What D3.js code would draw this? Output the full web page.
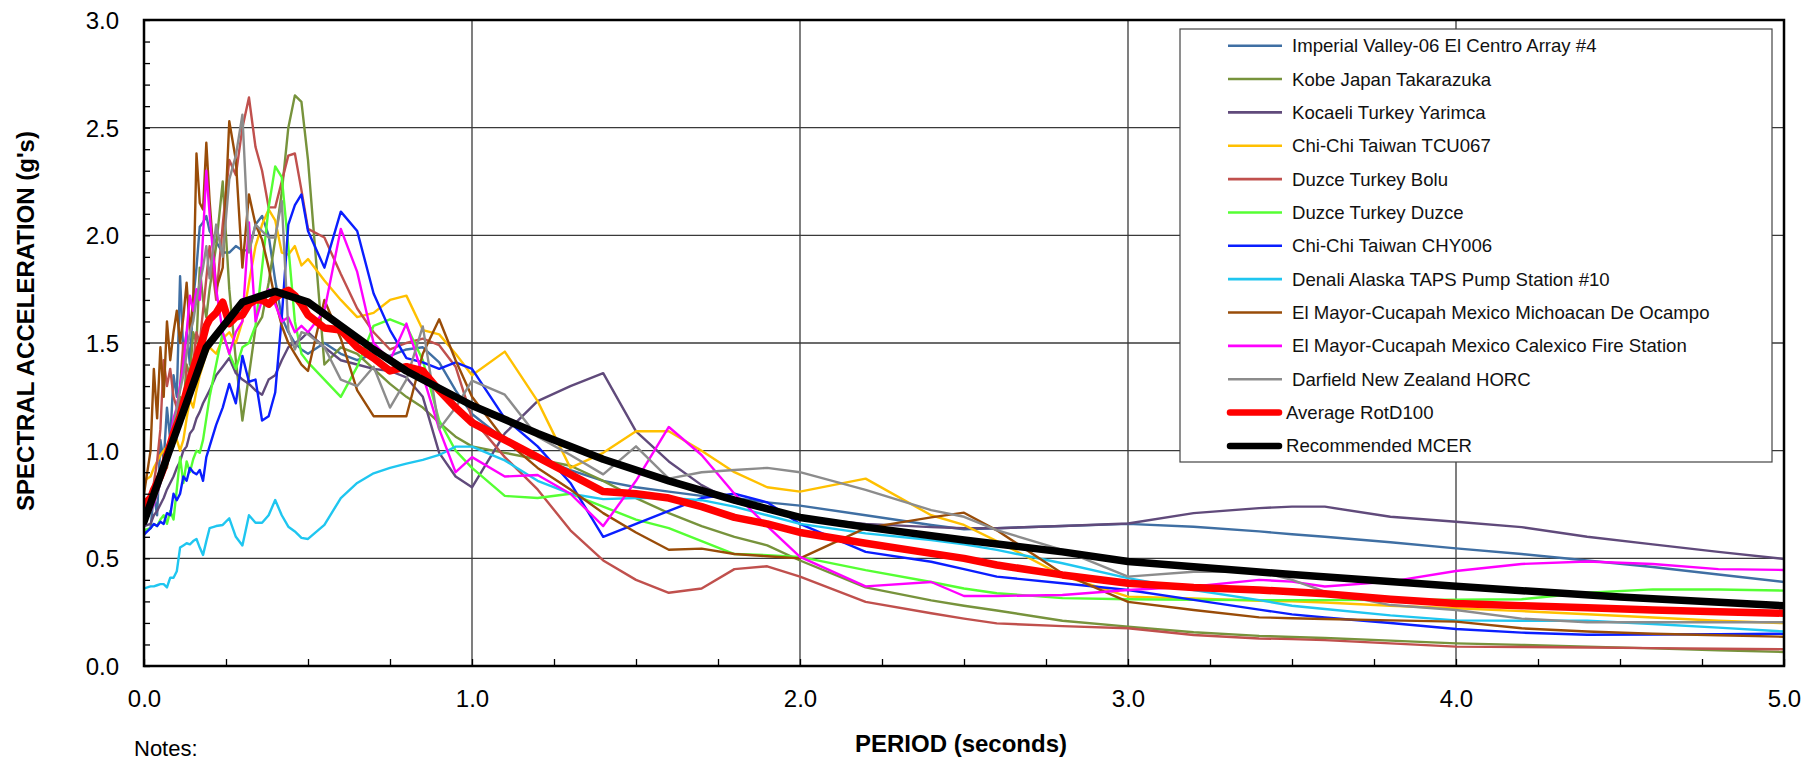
<!DOCTYPE html>
<html><head><meta charset="utf-8">
<script src="https://cdn.jsdelivr.net/npm/d3@7"></script>
<style>
html,body{margin:0;padding:0;background:#fff;}
svg{display:block;font-family:Arial,"Liberation Sans",sans-serif;}
</style></head><body>
<svg id="chart" width="1818" height="763"></svg>
<script>
// ---------------- DATA ----------------
const periods = [
  0.0,0.02,0.03,0.04,0.05,0.06,0.07,0.08,0.09,0.10,
  0.11,0.12,0.13,0.14,0.15,0.16,0.17,0.18,0.19,0.20,
  0.22,0.24,0.26,0.28,0.30,0.32,0.34,0.36,0.38,0.40,
  0.42,0.44,0.46,0.48,0.50,0.55,0.60,0.65,0.70,0.75,
  0.80,0.85,0.90,0.95,1.0,1.1,1.2,1.3,1.4,1.5,
  1.6,1.7,1.8,1.9,2.0,2.2,2.4,2.5,2.6,2.8,
  3.0,3.2,3.4,3.5,3.6,3.8,4.0,4.2,4.4,4.6,
  4.8,5.0];

const imperialValley = [
  0.62,0.64,0.80,0.70,1.05,0.95,1.20,1.05,1.35,1.25,
  1.81,1.45,1.55,1.40,1.70,1.85,2.04,2.06,2.09,2.02,
  1.97,1.92,1.92,1.95,1.93,1.93,2.05,2.09,2.00,1.79,
  1.62,1.55,1.50,1.47,1.45,1.50,1.45,1.42,1.45,1.44,
  1.47,1.48,1.41,1.28,1.17,1.05,0.97,0.91,0.86,0.83,
  0.81,0.79,0.78,0.76,0.745,0.70,0.655,0.635,0.64,0.65,
  0.66,0.647,0.625,0.612,0.60,0.575,0.546,0.52,0.49,0.46,
  0.425,0.39];

const kobe = [
  0.72,0.74,0.78,0.82,0.88,0.95,0.92,1.05,1.02,1.15,
  1.25,1.20,1.40,1.35,1.55,1.50,1.85,1.70,1.62,1.75,
  1.95,2.25,1.75,1.42,1.14,1.35,1.57,1.62,1.78,1.98,
  2.20,2.50,2.65,2.62,2.35,1.40,1.48,1.45,1.38,1.31,
  1.25,1.20,1.13,1.065,1.02,0.99,0.96,0.93,0.86,0.78,
  0.71,0.65,0.60,0.56,0.49,0.365,0.305,0.28,0.258,0.21,
  0.183,0.157,0.14,0.135,0.13,0.118,0.105,0.098,0.09,0.082,
  0.073,0.065];

const kocaeli = [
  0.65,0.66,0.70,0.72,0.75,0.78,0.82,0.85,0.88,0.92,
  0.95,1.00,1.02,1.08,1.10,1.15,1.18,1.22,1.25,1.28,
  1.35,1.39,1.43,1.36,1.33,1.31,1.28,1.26,1.33,1.35,
  1.42,1.48,1.50,1.52,1.55,1.48,1.42,1.40,1.38,1.37,
  1.34,1.25,0.99,0.88,0.83,1.08,1.23,1.30,1.36,1.09,
  0.95,0.84,0.76,0.72,0.69,0.66,0.645,0.64,0.64,0.65,
  0.662,0.71,0.733,0.74,0.74,0.693,0.67,0.645,0.60,0.565,
  0.53,0.497];

const chiChiTCU067 = [
  0.86,0.88,0.92,0.95,0.98,1.00,1.02,1.05,1.08,1.05,
  1.00,1.05,1.15,1.24,1.20,1.28,1.35,1.40,1.45,1.48,
  1.45,1.52,1.55,1.50,1.60,1.78,1.95,2.05,2.12,2.07,
  1.92,1.91,1.95,1.86,1.89,1.79,1.70,1.62,1.64,1.70,
  1.72,1.56,1.54,1.45,1.35,1.46,1.23,0.92,0.99,1.09,
  1.09,1.00,0.90,0.83,0.81,0.87,0.70,0.655,0.58,0.42,
  0.322,0.314,0.303,0.30,0.295,0.28,0.268,0.255,0.24,0.225,
  0.21,0.199];

const duzceBolu = [
  0.70,0.75,0.85,0.95,1.10,1.42,1.30,1.38,1.25,1.20,
  1.30,1.50,1.35,1.30,1.40,1.55,1.50,1.65,1.80,1.95,
  1.70,2.05,2.35,2.28,2.50,2.64,2.41,2.30,2.13,2.13,
  2.25,2.37,2.38,2.21,2.03,1.99,1.82,1.66,1.55,1.47,
  1.50,1.52,1.49,1.39,1.15,0.97,0.82,0.63,0.49,0.40,
  0.34,0.36,0.45,0.463,0.415,0.298,0.245,0.22,0.198,0.185,
  0.175,0.144,0.128,0.125,0.12,0.105,0.09,0.088,0.086,0.083,
  0.08,0.078];

const duzceDuzce = [
  0.63,0.64,0.66,0.65,0.68,0.70,0.66,0.72,0.68,0.82,
  0.97,0.85,0.95,0.90,0.96,1.00,0.99,1.05,1.15,1.25,
  1.40,1.55,1.45,1.38,1.48,1.50,1.58,1.85,2.13,2.32,
  2.27,1.95,1.60,1.45,1.41,1.33,1.25,1.39,1.58,1.61,
  1.58,1.42,1.14,1.00,0.92,0.79,0.78,0.80,0.74,0.68,
  0.64,0.58,0.52,0.515,0.507,0.445,0.39,0.36,0.338,0.315,
  0.31,0.308,0.306,0.306,0.306,0.307,0.308,0.31,0.34,0.356,
  0.355,0.35];

const chiChiCHY006 = [
  0.61,0.64,0.66,0.65,0.67,0.66,0.71,0.70,0.80,0.77,
  0.80,0.88,0.86,0.92,0.90,0.89,0.91,0.86,0.97,1.02,
  1.12,1.20,1.31,1.22,1.44,1.32,1.33,1.14,1.16,1.27,
  1.62,2.05,2.14,2.19,2.02,1.85,2.11,2.02,1.73,1.56,
  1.43,1.41,1.38,1.41,1.38,1.15,1.02,0.85,0.60,0.66,
  0.72,0.78,0.80,0.76,0.66,0.53,0.484,0.45,0.415,0.384,
  0.353,0.307,0.262,0.24,0.225,0.20,0.172,0.155,0.145,0.146,
  0.148,0.15];

const denali = [
  0.36,0.37,0.37,0.375,0.38,0.38,0.365,0.41,0.41,0.44,
  0.55,0.56,0.57,0.565,0.58,0.59,0.55,0.516,0.58,0.64,
  0.65,0.655,0.686,0.60,0.56,0.70,0.665,0.665,0.70,0.771,
  0.70,0.647,0.625,0.595,0.59,0.655,0.78,0.85,0.895,0.92,
  0.94,0.957,0.98,1.019,1.019,0.955,0.86,0.80,0.775,0.78,
  0.78,0.77,0.74,0.70,0.66,0.616,0.585,0.565,0.539,0.477,
  0.408,0.353,0.306,0.28,0.265,0.235,0.212,0.21,0.21,0.195,
  0.178,0.16];

const michoacan = [
  0.80,1.00,1.38,1.15,1.48,1.25,1.60,1.42,1.55,1.65,
  1.50,1.62,1.78,1.55,1.70,2.38,2.15,2.12,2.43,2.16,
  1.75,1.85,2.53,2.35,1.85,2.19,2.05,1.98,1.85,1.70,
  1.58,1.50,1.45,1.40,1.37,1.70,1.52,1.28,1.16,1.16,
  1.16,1.45,1.61,1.42,1.25,1.05,0.92,0.82,0.71,0.62,
  0.54,0.545,0.52,0.51,0.50,0.64,0.69,0.712,0.63,0.43,
  0.298,0.26,0.226,0.222,0.218,0.212,0.206,0.175,0.16,0.15,
  0.143,0.136];

const calexico = [
  0.70,0.72,0.75,0.80,0.85,0.95,1.00,1.05,1.15,1.20,
  1.30,1.40,1.55,1.72,1.65,1.75,1.70,2.00,2.30,2.10,
  1.75,1.55,1.45,1.55,1.60,2.06,1.60,1.70,1.75,1.68,
  1.60,1.62,1.55,1.58,1.55,1.65,2.03,1.83,1.50,1.42,
  1.59,1.35,1.10,0.90,0.97,0.88,0.887,0.80,0.65,0.86,
  1.11,0.98,0.80,0.65,0.507,0.37,0.39,0.325,0.325,0.33,
  0.353,0.369,0.40,0.392,0.369,0.392,0.441,0.474,0.485,0.474,
  0.45,0.446];

const darfield = [
  0.70,0.72,0.76,0.80,0.85,0.90,0.98,1.05,1.12,1.20,
  1.28,1.35,1.45,1.55,1.60,1.70,1.78,1.85,1.95,1.80,
  2.05,1.90,2.26,2.37,2.56,1.92,2.05,2.02,1.99,1.99,
  2.16,1.56,1.47,1.55,1.54,1.48,1.33,1.30,1.39,1.20,
  1.33,1.577,1.10,1.20,1.325,1.26,1.065,0.98,0.89,1.02,
  0.87,0.90,0.91,0.92,0.90,0.818,0.724,0.693,0.631,0.539,
  0.415,0.438,0.438,0.40,0.345,0.283,0.26,0.22,0.203,0.203,
  0.203,0.203];

const averageRotD100 = [
  0.75,0.78,0.82,0.85,0.88,0.92,0.98,1.03,1.08,1.12,
  1.16,1.22,1.28,1.33,1.38,1.43,1.48,1.52,1.58,1.61,
  1.64,1.69,1.59,1.62,1.63,1.68,1.70,1.70,1.68,1.71,
  1.73,1.745,1.72,1.68,1.63,1.57,1.56,1.48,1.43,1.37,
  1.39,1.37,1.28,1.20,1.13,1.05,0.97,0.89,0.81,0.80,
  0.78,0.74,0.69,0.66,0.62,0.57,0.523,0.50,0.469,0.423,
  0.384,0.365,0.353,0.345,0.335,0.31,0.29,0.28,0.27,0.26,
  0.252,0.245];

const mcerPeriods = [0.0,0.19,0.30,0.40,0.50,0.60,0.70,0.80,0.90,1.0,1.2,1.4,1.6,1.8,2.0,2.2,2.5,2.8,3.0,3.5,4.0,4.5,5.0];
const mcerValues  = [0.67,1.48,1.69,1.74,1.69,1.58,1.47,1.37,1.29,1.21,1.08,0.96,0.86,0.77,0.69,0.645,0.585,0.53,0.485,0.425,0.37,0.32,0.28];

const recordNames = [
  "Imperial Valley-06 El Centro Array #4",
  "Kobe Japan Takarazuka",
  "Kocaeli Turkey Yarimca",
  "Chi-Chi Taiwan TCU067",
  "Duzce Turkey Bolu",
  "Duzce Turkey Duzce",
  "Chi-Chi Taiwan CHY006",
  "Denali Alaska TAPS Pump Station #10",
  "El Mayor-Cucapah Mexico Michoacan De Ocampo",
  "El Mayor-Cucapah Mexico Calexico Fire Station",
  "Darfield New Zealand HORC"];
const recordColors = ["#3F6FA3","#77933C","#604A7B","#FFC000","#C0504D","#55FF33","#0A1EFF","#1FC6F0","#994C08","#FF00FF","#8C8C8C"];
const recordValues = [imperialValley,kobe,kocaeli,chiChiTCU067,duzceBolu,duzceDuzce,chiChiCHY006,denali,michoacan,calexico,darfield];

const xTicks = [0,1,2,3,4,5];
const yTicks = [0,0.5,1.0,1.5,2.0,2.5,3.0];
const xTitle = "PERIOD (seconds)";
const yTitle = "SPECTRAL ACCELERATION (g's)";

// ---------------- CHART ----------------
const svg = d3.select("#chart");
const x = d3.scaleLinear().domain([0,5]).range([144,1784]);
const y = d3.scaleLinear().domain([0,3]).range([666,20]);

svg.append("rect").attr("width",1818).attr("height",763).attr("fill","#fff");

// grid
const grid = svg.append("g");
grid.selectAll("line.h").data(yTicks.filter(d=>d>0&&d<3)).join("line")
  .attr("x1",x(0)).attr("x2",x(5)).attr("y1",d=>y(d)).attr("y2",d=>y(d))
  .attr("stroke","#3a3a3a").attr("stroke-width",1.3);
grid.selectAll("line.v").data(xTicks.filter(d=>d>0&&d<5)).join("line")
  .attr("y1",y(0)).attr("y2",y(3)).attr("x1",d=>x(d)).attr("x2",d=>x(d))
  .attr("stroke","#3a3a3a").attr("stroke-width",1.3);

// clip
svg.append("clipPath").attr("id","clip").append("rect")
  .attr("x",x(0)).attr("y",y(3)).attr("width",x(5)-x(0)).attr("height",y(0)-y(3));
const plot = svg.append("g").attr("clip-path","url(#clip)");
const lineGen = d3.line().x(d=>x(d[0])).y(d=>y(d[1]));

recordValues.forEach((vals,i)=>{
  plot.append("path").datum(periods.map((p,j)=>[p,vals[j]]))
    .attr("d",lineGen).attr("fill","none").attr("stroke",recordColors[i])
    .attr("stroke-width",2.4).attr("stroke-linejoin","round");
});
plot.append("path").datum(periods.map((p,j)=>[p,averageRotD100[j]]))
  .attr("d",lineGen).attr("fill","none").attr("stroke","#FF0000")
  .attr("stroke-width",7.5).attr("stroke-linejoin","round").attr("stroke-linecap","round");
plot.append("path").datum(mcerPeriods.map((p,j)=>[p,mcerValues[j]]))
  .attr("d",lineGen).attr("fill","none").attr("stroke","#000")
  .attr("stroke-width",7.5).attr("stroke-linejoin","round").attr("stroke-linecap","round");

// minor ticks
const minorX = d3.range(0,5.001,0.25);
const minorY = d3.range(0,3.001,0.1);
svg.append("g").attr("transform",`translate(0,${y(0)})`)
  .call(d3.axisBottom(x).tickValues(minorX).tickSize(-7).tickFormat(""))
  .call(g=>g.select(".domain").remove())
  .call(g=>g.selectAll("line").attr("stroke","#000").attr("stroke-width",1.3));
svg.append("g").attr("transform",`translate(${x(0)},0)`)
  .call(d3.axisLeft(y).tickValues(minorY).tickSize(-6).tickFormat(""))
  .call(g=>g.select(".domain").remove())
  .call(g=>g.selectAll("line").attr("stroke","#000").attr("stroke-width",1.3));

// major labels
svg.append("g").attr("transform",`translate(0,${y(0)})`)
  .call(d3.axisBottom(x).tickValues(xTicks).tickSize(0).tickFormat(d3.format(".1f")))
  .call(g=>g.select(".domain").remove())
  .call(g=>g.selectAll("text").attr("y",41).attr("dy",0)
      .attr("font-size",24).attr("fill","#000").attr("font-family",'Arial,"Liberation Sans",sans-serif'));
svg.append("g").attr("transform",`translate(${x(0)},0)`)
  .call(d3.axisLeft(y).tickValues(yTicks).tickSize(0).tickFormat(d3.format(".1f")))
  .call(g=>g.select(".domain").remove())
  .call(g=>g.selectAll("text").attr("x",-25).attr("dy","0.35em")
      .attr("font-size",24).attr("fill","#000").attr("font-family",'Arial,"Liberation Sans",sans-serif'));

// frame
svg.append("rect").attr("x",x(0)).attr("y",y(3)).attr("width",x(5)-x(0)).attr("height",y(0)-y(3))
  .attr("fill","none").attr("stroke","#000").attr("stroke-width",2.5);

// titles
svg.append("text").attr("x",961).attr("y",752).attr("text-anchor","middle")
  .attr("font-size",24).attr("font-weight","bold").text(xTitle);
svg.append("text").attr("transform","translate(33.5,321) rotate(-90)").attr("text-anchor","middle")
  .attr("font-size",24).attr("font-weight","bold").text(yTitle);
svg.append("text").attr("x",134).attr("y",756).attr("font-size",22).text("Notes:");

// legend
const lg = svg.append("g");
lg.append("rect").attr("x",1180).attr("y",29).attr("width",592).attr("height",433)
  .attr("fill","#fff").attr("stroke","#444").attr("stroke-width",1.2);
const rowY = i => 45.7 + i*33.35;
recordNames.forEach((n,i)=>{
  lg.append("line").attr("x1",1228).attr("x2",1282).attr("y1",rowY(i)).attr("y2",rowY(i))
    .attr("stroke",recordColors[i]).attr("stroke-width",2.6);
  lg.append("text").attr("x",1292).attr("y",rowY(i)).attr("dy","0.35em")
    .attr("font-size",18.6).attr("fill","#111").text(n);
});
[["Average RotD100","#FF0000"],["Recommended MCER","#000"]].forEach((d,k)=>{
  const i = recordNames.length + k;
  lg.append("line").attr("x1",1230).attr("x2",1279).attr("y1",rowY(i)).attr("y2",rowY(i))
    .attr("stroke",d[1]).attr("stroke-width",6.5).attr("stroke-linecap","round");
  lg.append("text").attr("x",1286).attr("y",rowY(i)).attr("dy","0.35em")
    .attr("font-size",18.6).attr("fill","#111").text(d[0]);
});
</script>
</body></html>
